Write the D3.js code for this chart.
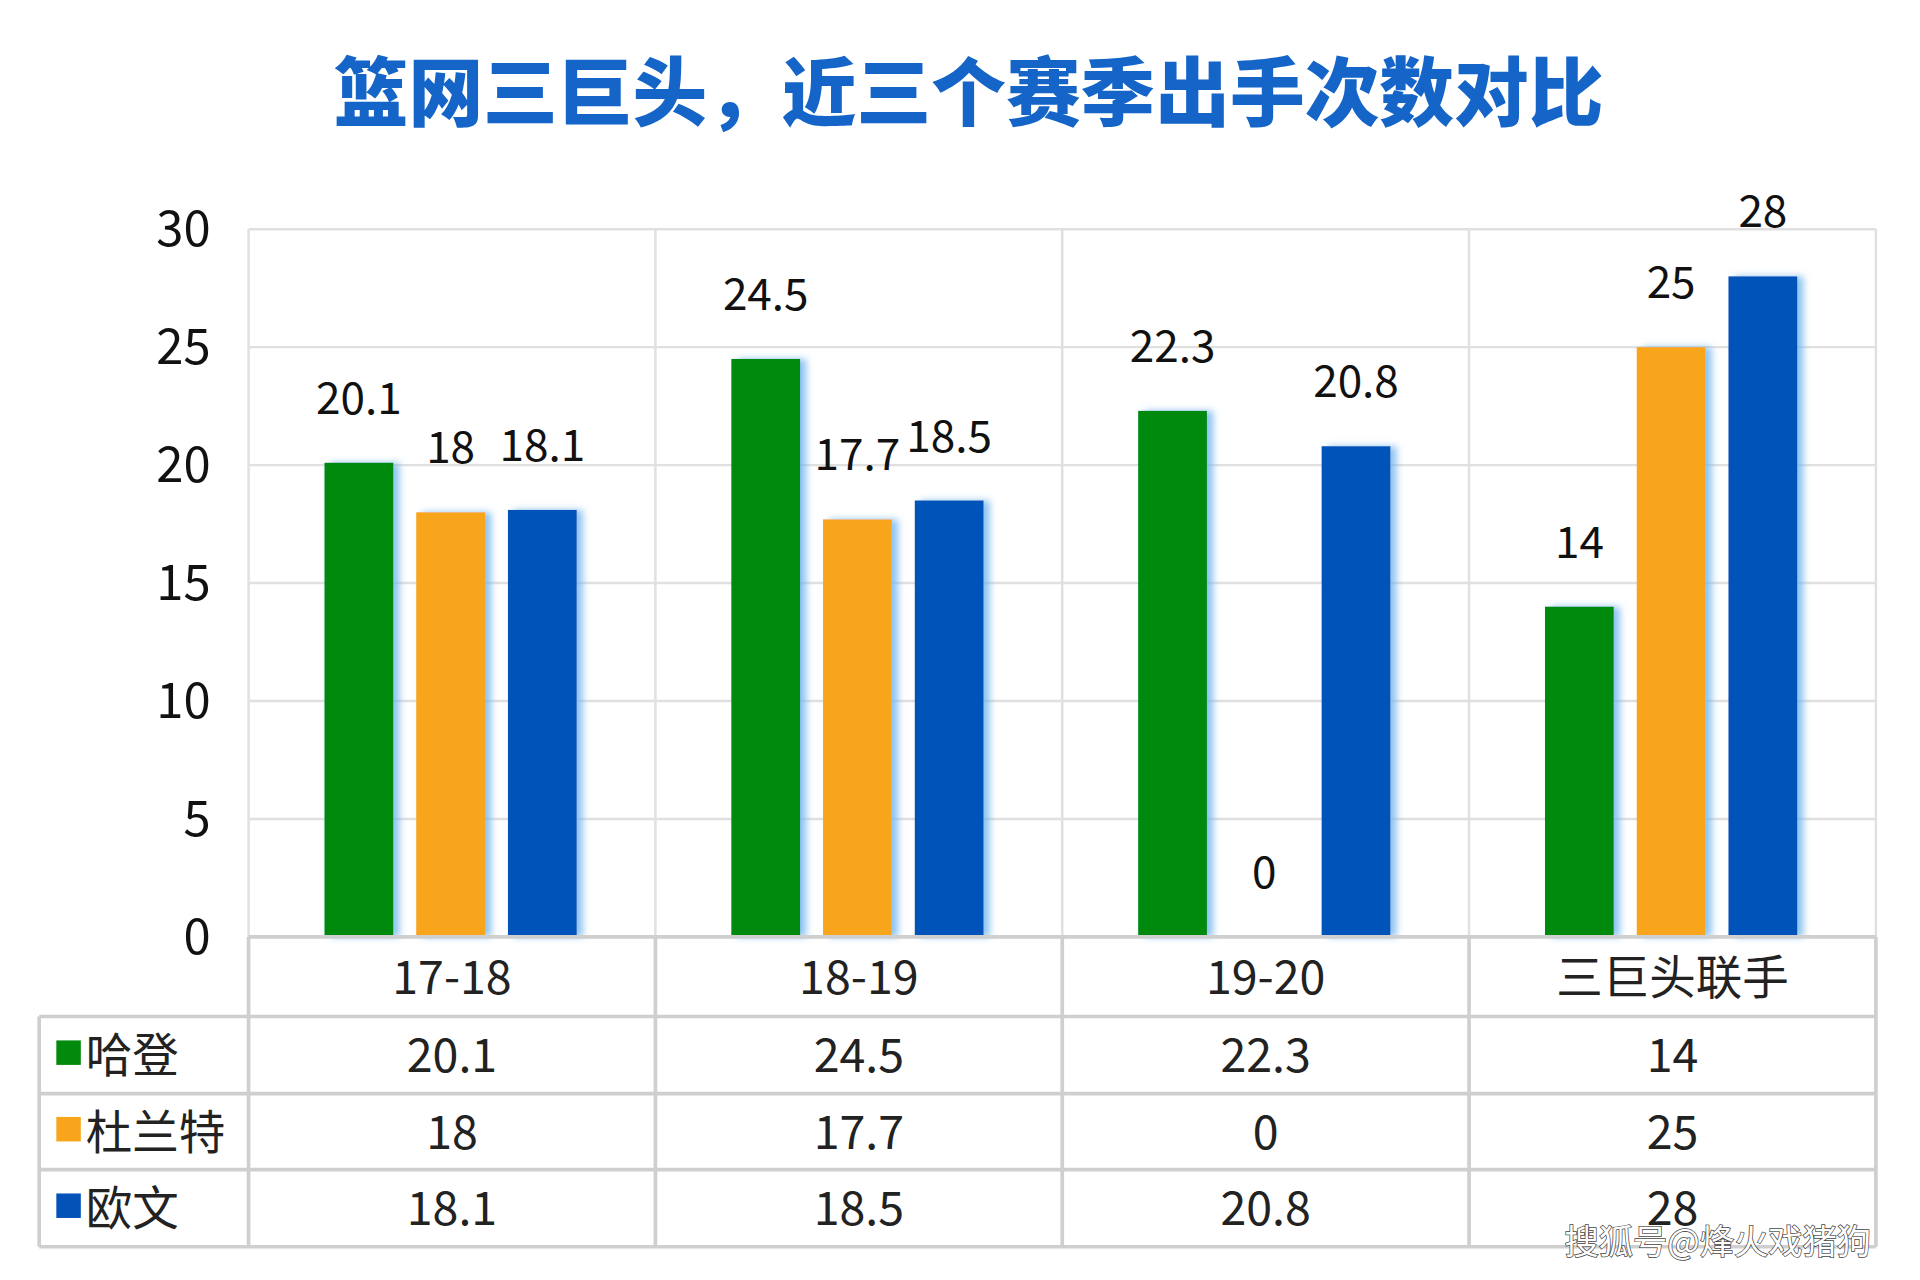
<!DOCTYPE html><html><head><meta charset="utf-8"><script src="https://cdn.jsdelivr.net/npm/d3@7"></script>
<style>body{margin:0;background:#fff}</style></head><body><svg id="c"></svg><script>
const categories=["17-18","18-19","19-20","三巨头联手"];
const seriesNames=["哈登","杜兰特","欧文"];
const harden=[20.1,24.5,22.3,14];
const durant=[18,17.7,0,25];
const irving=[18.1,18.5,20.8,28];
const colors=["#018a0c","#f9a51b","#0352b8"];
const yTicks=[0,5,10,15,20,25,30];
const series=[harden,durant,irving];
const font="'Noto Sans CJK SC','Microsoft YaHei',sans-serif";
const svg=d3.select("#c").attr("width",1920).attr("height",1280).attr("viewBox","0 0 1568 1045");
const defs=svg.append("defs");
const f=defs.append("filter").attr("id","sh").attr("x","-20%").attr("width","160%");
f.append("feDropShadow").attr("dx",5).attr("dy",0).attr("stdDeviation",3).attr("flood-color","#6fb4ee").attr("flood-opacity",0.8);
const L=203,R=1532;
const x=d3.scaleBand().domain(categories).range([L,R]);
const y=d3.scaleLinear().domain([0,30]).range([765,187]);
svg.append("text").attr("x",791).attr("y",98).attr("text-anchor","middle").attr("font-family",font).attr("font-weight",900).attr("font-size",61).attr("fill","#1565c8").text("篮网三巨头，近三个赛季出手次数对比");
svg.selectAll(".g").data(yTicks).join("line").attr("x1",L).attr("x2",R).attr("y1",d=>y(d)).attr("y2",d=>y(d)).attr("stroke","#e0e0e0").attr("stroke-width",2);
categories.forEach((c,i)=>{svg.append("line").attr("x1",x(c)).attr("x2",x(c)).attr("y1",187).attr("y2",765).attr("stroke","#e0e0e0").attr("stroke-width",2);});
svg.append("line").attr("x1",R).attr("x2",R).attr("y1",187).attr("y2",765).attr("stroke","#e0e0e0").attr("stroke-width",2);
svg.selectAll(".yt").data(yTicks).join("text").attr("x",172).attr("y",d=>y(d)+14).attr("text-anchor","end").attr("font-family",font).attr("font-size",40).attr("fill","#111").text(d=>d);
const inner=d3.scaleBand().domain([0,1,2]).range([62,268]).paddingInner(0.25);
series.forEach((vals,s)=>{
 const g=svg.append("g");
 g.selectAll("rect").data(vals).join("rect").attr("x",(d,i)=>x(categories[i])+inner(s)).attr("width",inner.bandwidth()).attr("y",d=>y(d)).attr("height",d=>y(0)-y(d)).attr("fill",colors[s]).attr("filter","url(#sh)");
 g.selectAll("text").data(vals).join("text").attr("x",(d,i)=>x(categories[i])+inner(s)+inner.bandwidth()/2).attr("y",d=>y(d)-40).attr("text-anchor","middle").attr("font-family",font).attr("font-size",36).attr("fill","#111").text(d=>d);
});
const rows=[765,830,893,955,1018];
const tc="#cfcfcf";
svg.append("line").attr("x1",L).attr("x2",R).attr("y1",765).attr("y2",765).attr("stroke",tc).attr("stroke-width",3);
rows.slice(1).forEach(r=>svg.append("line").attr("x1",32).attr("x2",R).attr("y1",r).attr("y2",r).attr("stroke",tc).attr("stroke-width",3));
[L,...categories.map(c=>x(c)+x.bandwidth())].forEach(xx=>svg.append("line").attr("x1",xx).attr("x2",xx).attr("y1",765).attr("y2",1018).attr("stroke",tc).attr("stroke-width",3));
svg.append("line").attr("x1",32).attr("x2",32).attr("y1",830).attr("y2",1018).attr("stroke",tc).attr("stroke-width",3);
categories.forEach(c=>svg.append("text").attr("x",x(c)+x.bandwidth()/2).attr("y",812).attr("text-anchor","middle").attr("font-family",font).attr("font-size",38).attr("fill","#222").text(c));
series.forEach((vals,s)=>{
 const cy=(rows[s+1]+rows[s+2])/2;
 svg.append("rect").attr("x",46).attr("y",cy-12).attr("width",20).attr("height",20).attr("fill",colors[s]);
 svg.append("text").attr("x",70).attr("y",cy+14).attr("font-family",font).attr("font-size",38).attr("fill","#222").text(seriesNames[s]);
 vals.forEach((v,i)=>svg.append("text").attr("x",x(categories[i])+x.bandwidth()/2).attr("y",cy+14).attr("text-anchor","middle").attr("font-family",font).attr("font-size",38).attr("fill","#222").text(v));
});
svg.append("text").attr("x",1528).attr("y",1024).attr("text-anchor","end").attr("font-family",font).attr("font-size",28).attr("fill","#fff").attr("stroke","#444").attr("stroke-width",1.2).attr("paint-order","stroke").text("搜狐号@烽火戏猪狗");
</script></body></html>
